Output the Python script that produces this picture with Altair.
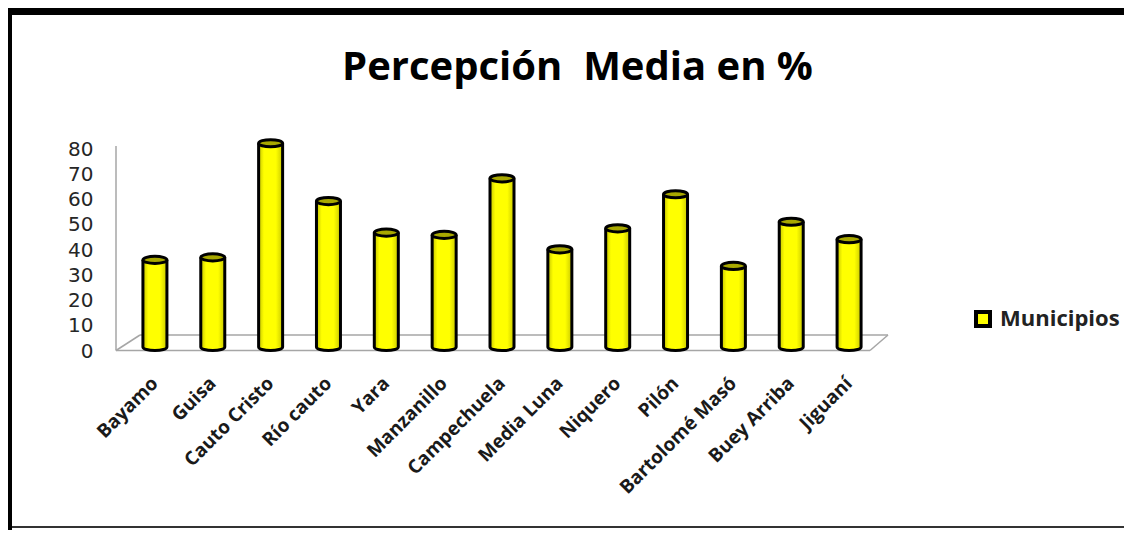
import altair as alt
import pandas as pd

municipios = ["Bayamo", "Guisa", "Cauto Cristo", "Río cauto", "Yara", "Manzanillo",
              "Campechuela", "Media Luna", "Niquero", "Pilón", "Bartolomé Masó",
              "Buey Arriba", "Jiguaní"]
valores = [34.5, 35.5, 80.7, 57.8, 45.3, 44.4, 66.8, 38.7, 47.0, 60.5, 32.1, 49.6, 42.7]
serie = "Municipios"
y_ticks = [0, 10, 20, 30, 40, 50, 60, 70, 80]
titulo = "Percepción\u00a0 Media en %"

df = pd.DataFrame({"Municipio": municipios, "Percepción": valores,
                   "Serie": [serie] * len(municipios)})
one = pd.DataFrame({"k": [0]})

W, H = 752, 202

x_axis = alt.Axis(title=None, labelAngle=-45, labelAlign="right",
                  labelBaseline="middle", labelFont="Open Sans",
                  labelFontWeight="bold", labelFontSize=19,
                  labelColor="#1a1a1a", domain=False, ticks=False,
                  tickSize=0, labelPadding=33, grid=False,
                  labelOverlap=False)
y_axis = alt.Axis(values=y_ticks, title=None, domain=False, ticks=False,
                  tickSize=0, grid=False, labelFont="DejaVu Sans",
                  labelFontSize=20, labelColor="#262626",
                  labelPadding=33, labelOffset=4, labelOverlap=False,
                  labelFlush=False, labelBound=False)
y_scale = alt.Scale(domain=[0, 80], nice=False, zero=True)
x_scale = alt.Scale(paddingInner=0, paddingOuter=0)


def xe(center=False):
    if center:
        return alt.X("Municipio:N", sort=municipios, bandPosition=0.5,
                     scale=x_scale, axis=x_axis)
    return alt.X("Municipio:N", sort=municipios, scale=x_scale, axis=x_axis)


def ye():
    return alt.Y("Percepción:Q", scale=y_scale, axis=y_axis)


def seg(x1, y1, x2, y2, color, width):
    return alt.Chart(one).mark_rule(color=color, strokeWidth=width,
                                    strokeCap="butt").encode(
        x=alt.value(x1), x2=alt.value(x2), y=alt.value(y1), y2=alt.value(y2))


grad = alt.Gradient(gradient="linear",
                    stops=[alt.GradientStop(color="#c4c400", offset=0),
                           alt.GradientStop(color="#ffff00", offset=0.22),
                           alt.GradientStop(color="#ffff00", offset=0.72),
                           alt.GradientStop(color="#caca00", offset=1)],
                    x1=0, x2=1, y1=0, y2=0)

ELLIPSE = ("M -1 0 C -1 -0.166 -0.552 -0.3 0 -0.3 C 0.552 -0.3 1 -0.166 1 0 "
           "C 1 0.166 0.552 0.3 0 0.3 C -0.552 0.3 -1 0.166 -1 0 Z")
HALF = "M -1 0 C -1 0.166 -0.552 0.3 0 0.3 C 0.552 0.3 1 0.166 1 0"

base = alt.Chart(df)

# frame
frame = [
    seg(-119, -133.5, 1000, -133.5, "black", 7),
    seg(-116.5, -137, -116.5, 385, "black", 5),
    seg(-114, 382, 1000, 382, "#333333", 2),
]

# floor / axis lines
floor_c = "#a6a6a6"
floor = [
    seg(-10, 1, -10, 205.5, floor_c, 1.5),
    seg(-10, 205.5, 744, 205.5, floor_c, 1.5),
    seg(14, 190, 762, 190, floor_c, 1.5),
    seg(-10, 205.5, 14, 190, floor_c, 1.5),
    seg(744, 205.5, 762, 190, floor_c, 1.5),
]

bars = base.mark_bar(width=24, fill=grad).encode(x=xe(), y=ye())

side_l = base.mark_rule(color="black", strokeWidth=3, xOffset=-12).encode(
    x=xe(True), y=ye(), y2=alt.Y2(datum=0))
side_r = base.mark_rule(color="black", strokeWidth=3, xOffset=12).encode(
    x=xe(True), y=ye(), y2=alt.Y2(datum=0))

bottom = base.mark_point(shape=HALF, size=576, filled=True, stroke="black",
                         strokeWidth=3, opacity=1).encode(
    x=xe(True),
    y=alt.Y(datum=0, type="quantitative", scale=y_scale, axis=y_axis),
    color=alt.Color("Serie:N", scale=alt.Scale(range=["#ffff00"]),
                    legend=alt.Legend(orient="none", legendX=846, legendY=163,
                                      title=None, symbolType="square",
                                      symbolSize=196, symbolStrokeColor="black",
                                      symbolStrokeWidth=4, symbolOpacity=1,
                                      labelFont="Open Sans", labelFontWeight="bold",
                                      labelFontSize=22, labelColor="#222222",
                                      labelOffset=6, padding=0)))

top = base.mark_point(shape=ELLIPSE, size=576, filled=True, fill="#a8a800",
                      stroke="black", strokeWidth=3, opacity=1).encode(
    x=xe(True), y=ye())

title = alt.Chart(one).mark_text(text=titulo, font="Open Sans", fontSize=40,
                                 fontWeight="bold", align="center",
                                 baseline="alphabetic", color="black").encode(
    x=alt.value(451.5), y=alt.value(-65))

chart = alt.layer(*frame, *floor, bars, side_l, side_r, bottom, top, title).properties(
    width=W, height=H,
    padding={"left": 118, "top": 137, "right": 246, "bottom": 183},
    autosize=alt.AutoSizeParams(type="none"),
    background="white",
).configure_view(strokeWidth=0)

chart.save("out.html", embed_options={"renderer": "svg", "actions": False})
